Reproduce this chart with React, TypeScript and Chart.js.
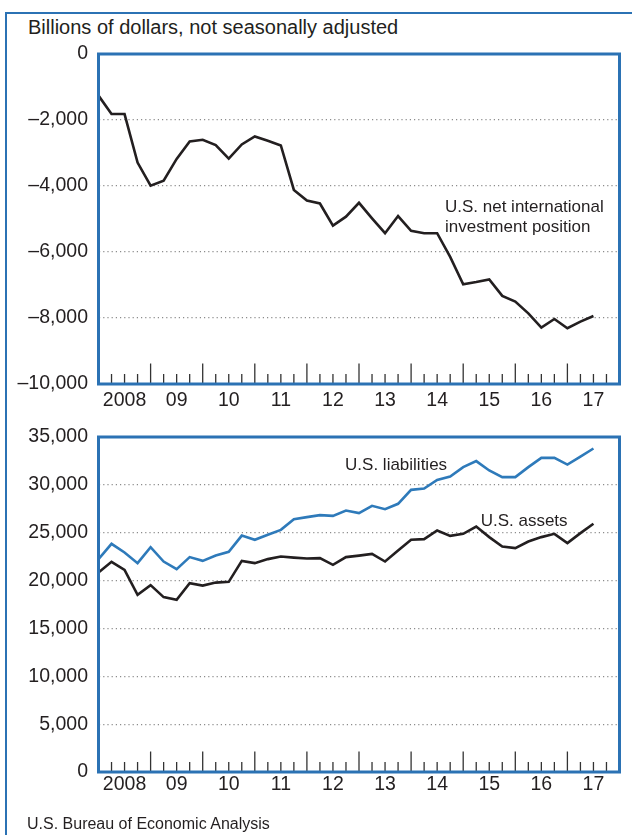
import React, { useEffect, useRef } from 'react';
import { Chart, registerables } from 'chart.js';

Chart.register(...registerables);

// Quarter-end observations, 2007 Q4 through 2017 Q2
const quarters = [
  '2007Q4',
  '2008Q1', '2008Q2', '2008Q3', '2008Q4',
  '2009Q1', '2009Q2', '2009Q3', '2009Q4',
  '2010Q1', '2010Q2', '2010Q3', '2010Q4',
  '2011Q1', '2011Q2', '2011Q3', '2011Q4',
  '2012Q1', '2012Q2', '2012Q3', '2012Q4',
  '2013Q1', '2013Q2', '2013Q3', '2013Q4',
  '2014Q1', '2014Q2', '2014Q3', '2014Q4',
  '2015Q1', '2015Q2', '2015Q3', '2015Q4',
  '2016Q1', '2016Q2', '2016Q3', '2016Q4',
  '2017Q1', '2017Q2',
];

const netPosition = [
  -1260, -1820, -1820, -3290, -3990, -3840, -3180, -2650, -2600, -2760,
  -3170, -2740, -2500, -2630, -2770, -4120, -4440, -4530, -5200, -4930,
  -4510, -4980, -5430, -4910, -5360, -5430, -5430, -6150, -6980, -6910,
  -6830, -7330, -7500, -7860, -8290, -8030, -8310, -8110, -7940,
];

const liabilities = [
  22240, 23840, 22930, 21820, 23490, 21990, 21190, 22450, 22060, 22610,
  23000, 24700, 24260, 24780, 25300, 26420, 26630, 26840, 26760, 27320,
  27050, 27810, 27460, 28020, 29480, 29620, 30520, 30870, 31850, 32480,
  31500, 30810, 30810, 31850, 32820, 32820, 32120, 32960, 33800,
];

const assets = [
  20840, 21960, 21120, 18510, 19520, 18270, 17990, 19730, 19480, 19790,
  19870, 22060, 21820, 22240, 22510, 22400, 22300, 22340, 21640, 22450,
  22610, 22790, 21990, 23140, 24260, 24330, 25230, 24670, 24880, 25640,
  24540, 23550, 23390, 24080, 24540, 24880, 23910, 24960, 25930,
];

const yearLabels = ['2008', '09', '10', '11', '12', '13', '14', '15', '16', '17'];

const topTicks = [0, -2000, -4000, -6000, -8000, -10000];
const topTickLabels = ['0', '\u20132,000', '\u20134,000', '\u20136,000', '\u20138,000', '\u201310,000'];

const bottomTicks = [0, 5000, 10000, 15000, 20000, 25000, 30000, 35000];
const bottomTickLabels = ['0', '5,000', '10,000', '15,000', '20,000', '25,000', '30,000', '35,000'];

const FONT = '"Liberation Sans", Arial, Helvetica, sans-serif';
const TEXT = '#231f20';
const FRAME_BLUE = '#2b72b4';
const LINE_BLUE = '#2e7aba';
const LINE_BLACK = '#231f20';

const framePlugin = {
  id: 'frameTicks',
  afterDatasetsDraw(chart: any) {
    const { ctx, chartArea: a, scales } = chart;
    const x = scales.x;
    ctx.save();
    ctx.strokeStyle = '#333333';
    ctx.lineWidth = 1.3;
    for (let q = 1; q < 40; q++) {
      const px = x.getPixelForValue(q);
      const len = q % 4 === 0 ? 20.5 : 10;
      ctx.beginPath();
      ctx.moveTo(px, a.bottom);
      ctx.lineTo(px, a.bottom - len);
      ctx.stroke();
    }
    ctx.strokeStyle = FRAME_BLUE;
    ctx.lineWidth = 3;
    ctx.strokeRect(a.left, a.top, a.right - a.left, a.bottom - a.top);
    ctx.restore();
  },
};

const notesPlugin = {
  id: 'notes',
  afterDatasetsDraw(chart: any, _args: any, opts: any) {
    const { ctx, scales } = chart;
    ctx.save();
    ctx.fillStyle = TEXT;
    ctx.font = `17px ${FONT}`;
    ctx.textAlign = 'left';
    ctx.textBaseline = 'alphabetic';
    for (const n of opts.items || []) {
      ctx.fillText(n.text, scales.x.getPixelForValue(n.x), scales.y.getPixelForValue(n.y));
    }
    ctx.restore();
  },
};

type Note = { text: string; x: number; y: number };

function Panel(props: {
  top: number;
  height: number;
  padTop: number;
  xHeight: number;
  xPad: number;
  series: { values: number[]; color: string }[];
  yMin: number;
  yMax: number;
  yTicks: number[];
  yLabels: string[];
  notes: Note[];
}) {
  const ref = useRef<HTMLCanvasElement>(null);
  useEffect(() => {
    const font = { family: FONT, size: 19.5 };
    const chart = new Chart(ref.current as HTMLCanvasElement, {
      type: 'line',
      data: {
        datasets: props.series.map((s) => ({
          data: s.values.map((v, i) => ({ x: i, y: v })),
          borderColor: s.color,
          borderWidth: 2.6,
          pointRadius: 0,
          tension: 0,
          fill: false,
        })),
      },
      options: {
        animation: false,
        responsive: false,
        devicePixelRatio: 1,
        layout: { padding: { top: props.padTop, right: 12.5, left: 0, bottom: 0 } },
        plugins: {
          legend: { display: false },
          tooltip: { enabled: false },
          notes: { items: props.notes },
        } as any,
        scales: {
          x: {
            type: 'linear',
            min: 0,
            max: 40,
            grid: { display: false, drawTicks: false },
            border: { display: false },
            afterBuildTicks: (s: any) => {
              s.ticks = yearLabels.map((_, k) => ({ value: 4 * k + 2 }));
            },
            afterFit: (s: any) => {
              s.height = props.xHeight;
            },
            ticks: {
              autoSkip: false,
              maxRotation: 0,
              padding: props.xPad,
              color: TEXT,
              font,
              callback: (_v: any, i: number) => yearLabels[i],
            },
          },
          y: {
            type: 'linear',
            min: props.yMin,
            max: props.yMax,
            afterBuildTicks: (s: any) => {
              s.ticks = props.yTicks.map((v) => ({ value: v }));
            },
            afterFit: (s: any) => {
              s.width = 98.5;
            },
            grid: { color: '#8c8c8c', lineWidth: 1.2, drawTicks: false },
            border: { display: false, dash: [1.2, 3] },
            ticks: {
              padding: 10.5,
              color: TEXT,
              font,
              callback: (v: any) => props.yLabels[props.yTicks.indexOf(Number(v))],
            },
          },
        },
      } as any,
      plugins: [framePlugin, notesPlugin],
    });
    return () => chart.destroy();
  }, []);
  return (
    <canvas
      ref={ref}
      width={632}
      height={props.height}
      style={{ position: 'absolute', left: 0, top: props.top, width: 632, height: props.height }}
    />
  );
}

export default function App() {
  return (
    <div
      style={{
        position: 'absolute',
        left: 0,
        top: 0,
        width: 632,
        height: 835,
        overflow: 'hidden',
        background: '#ffffff',
        fontFamily: FONT,
        color: TEXT,
      }}
      data-quarters={quarters.length}
    >
      <div
        style={{
          position: 'absolute',
          left: 5,
          top: 12,
          width: 800,
          height: 900,
          borderLeft: `2.5px solid ${FRAME_BLUE}`,
          borderTop: `2.5px solid ${FRAME_BLUE}`,
        }}
      />
      <div
        style={{
          position: 'absolute',
          left: 28,
          top: 17.4,
          fontSize: 20,
          lineHeight: '20px',
          whiteSpace: 'nowrap',
        }}
      >
        Billions of dollars, not seasonally adjusted
      </div>
      <Panel
        top={0}
        height={414}
        padTop={54}
        xHeight={30}
        xPad={5}
        series={[{ values: netPosition, color: LINE_BLACK }]}
        yMin={-10000}
        yMax={0}
        yTicks={topTicks}
        yLabels={topTickLabels}
        notes={[
          { text: 'U.S. net international', x: 26.6, y: -4800 },
          { text: 'investment position', x: 26.6, y: -5406 },
        ]}
      />
      <Panel
        top={414}
        height={421}
        padTop={23}
        xHeight={63}
        xPad={1}
        series={[
          { values: liabilities, color: LINE_BLUE },
          { values: assets, color: LINE_BLACK },
        ]}
        yMin={0}
        yMax={35000}
        yTicks={bottomTicks}
        yLabels={bottomTickLabels}
        notes={[
          { text: 'U.S. liabilities', x: 18.93, y: 31590 },
          { text: 'U.S. assets', x: 29.34, y: 25738 },
        ]}
      />
      <div
        style={{
          position: 'absolute',
          left: 27,
          top: 815.8,
          fontSize: 16,
          lineHeight: '16px',
          whiteSpace: 'nowrap',
        }}
      >
        U.S. Bureau of Economic Analysis
      </div>
    </div>
  );
}
